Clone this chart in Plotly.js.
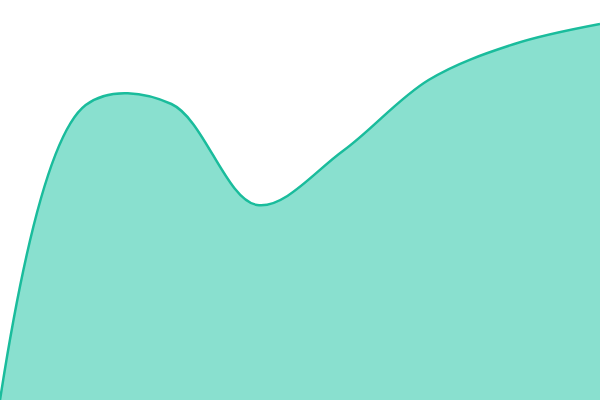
<!DOCTYPE html>
<html>
<head>
<meta charset="utf-8">
<script src="https://cdn.plot.ly/plotly-3.0.1.min.js"></script>
<style>
  html, body { margin: 0; padding: 0; background: #fff; }
  #myDiv { width: 600px; height: 400px; }
</style>
</head>
<body>
<div id="myDiv"></div>
<script>
// values (8 evenly spaced points)
let posicoes = [0, 1, 2, 3, 4, 5, 6, 7];
let valores = [0, 295, 296, 195, 249, 320, 356, 376];

function areaChart(x, y) {
  let trace1 = {
    x: x,
    y: y,
    type: 'scatter',
    mode: 'lines',
    fill: 'tozeroy',
    fillcolor: '#89e0cf',
    line: { color: '#1abc9c', width: 2.5, shape: 'spline', smoothing: 1 },
    hoverinfo: 'none'
  };

  let layout = {
    width: 600,
    height: 400,
    margin: { l: 0, r: 0, t: 0, b: 0 },
    paper_bgcolor: '#fff',
    plot_bgcolor: '#fff',
    showlegend: false,
    xaxis: { range: [0, 7], visible: false, fixedrange: true },
    yaxis: { range: [0, 400], visible: false, fixedrange: true }
  };

  Plotly.newPlot('myDiv', [trace1], layout, { displayModeBar: false, staticPlot: true });
}

areaChart(posicoes, valores);
</script>
</body>
</html>
